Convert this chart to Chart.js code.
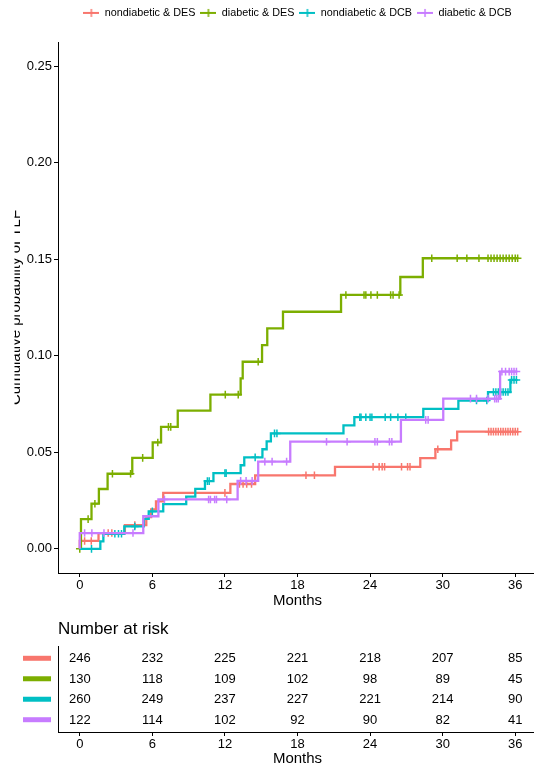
<!DOCTYPE html>
<html>
<head>
<meta charset="utf-8">
<title>Cumulative incidence by diabetes status and device</title>
<script src="https://cdn.jsdelivr.net/npm/chart.js@4.4.1/dist/chart.umd.min.js"></script>
<style>
  html, body { margin: 0; padding: 0; background: #fff; }
  #wrap { position: relative; width: 534px; height: 767px; overflow: hidden; }
  canvas { position: absolute; left: 0; display: block; }
  #curve { top: 0; }
  #risk { top: 612px; }
</style>
</head>
<body>
<div id="wrap">
  <canvas id="curve" width="537" height="612"></canvas>
  <canvas id="risk" width="537" height="155"></canvas>
</div>
<script>
const groups = ["nondiabetic & DES", "diabetic & DES", "nondiabetic & DCB", "diabetic & DCB"];
const colors = ["#F8766D", "#7CAE00", "#00BFC4", "#C77CFF"];

// event times (months) and cumulative probability right after each event
const redEventT = [0, 1.55, 3.73, 5.5, 5.9, 6.3, 6.9, 12.45, 14.5, 21.1, 28.15, 29.4, 30.7, 31.2];
const redEventY = [0.0041, 0.0082, 0.0123, 0.0164, 0.0205, 0.0246, 0.029, 0.0336, 0.0381, 0.0425, 0.047, 0.0516, 0.0562, 0.0607];
const redCensor = [0.4, 0.95, 2.35, 2.65, 4.55, 12.0, 13.2, 13.5, 13.8, 14.2, 18.7, 19.4, 24.25, 24.75, 25.0, 25.2, 26.6, 27.1, 27.3, 29.6, 33.8, 34.0, 34.2, 34.4, 34.6, 34.8, 35.0, 35.2, 35.4, 35.6, 35.8, 36.0, 36.2];

const greenEventT = [0.1, 0.97, 1.58, 2.3, 4.34, 6.03, 6.72, 8.1, 10.8, 13.3, 13.47, 15.07, 15.5, 16.8, 21.6, 26.5, 28.36];
const greenEventY = [0.0154, 0.0234, 0.031, 0.0389, 0.0471, 0.0551, 0.0632, 0.0716, 0.0799, 0.0883, 0.0969, 0.1055, 0.1142, 0.1228, 0.1315, 0.1408, 0.1505];
const greenCensor = [0, 0.69, 1.25, 2.7, 4.2, 5.2, 6.45, 7.33, 7.52, 12.03, 13.1, 14.75, 22.0, 23.5, 23.65, 24.07, 24.6, 25.7, 25.9, 26.4, 29.1, 31.2, 32.0, 33.0, 33.75, 34.0, 34.25, 34.5, 34.75, 35.0, 35.25, 35.5, 35.75, 36.0, 36.2];

const tealEventT = [1.7, 1.95, 3.68, 5.3, 5.7, 6.9, 8.8, 9.55, 10.35, 11.05, 13.3, 13.6, 15.1, 15.45, 15.8, 21.8, 22.7, 28.4, 31.3, 33.75, 35.6];
const tealEventY = [0.0039, 0.0078, 0.0116, 0.0155, 0.0194, 0.0232, 0.0271, 0.0311, 0.0351, 0.0392, 0.0433, 0.0474, 0.0516, 0.0557, 0.0598, 0.064, 0.0682, 0.0725, 0.0768, 0.0812, 0.0875];
const tealCensor = [0.97, 2.9, 3.2, 3.45, 4.55, 6.0, 10.55, 10.7, 12.0, 12.1, 14.5, 16.1, 16.3, 23.15, 23.25, 23.65, 24.0, 24.15, 25.25, 25.7, 26.3, 26.95, 32.8, 33.65, 34.2, 34.4, 34.6, 34.8, 35.0, 35.2, 35.4, 35.7, 35.9, 36.1];

const purpleEventT = [0, 5.25, 6.5, 13.05, 14.75, 17.4, 26.55, 30.05, 34.75];
const purpleEventY = [0.0082, 0.0169, 0.0256, 0.0352, 0.0452, 0.0555, 0.0668, 0.0778, 0.0918];
const purpleCensor = [0.4, 1.0, 2.0, 4.4, 7.0, 10.65, 10.8, 11.15, 11.3, 12.15, 13.3, 13.75, 14.25, 15.3, 15.9, 17.1, 20.4, 22.1, 24.4, 24.6, 25.6, 25.8, 28.6, 28.8, 32.3, 32.8, 33.75, 34.3, 34.45, 34.6, 34.9, 35.2, 35.5, 35.7, 35.9, 36.1];

// number at risk table
const riskTimes = [0, 6, 12, 18, 24, 30, 36];
const riskRed = [246, 232, 225, 221, 218, 207, 85];
const riskGreen = [130, 118, 109, 102, 98, 89, 45];
const riskTeal = [260, 249, 237, 227, 221, 214, 90];
const riskPurple = [122, 114, 102, 92, 90, 82, 41];

const xTicks = [0, 6, 12, 18, 24, 30, 36];
const yTicks = [0, 0.05, 0.10, 0.15, 0.20, 0.25];
const yTitle = "Cumulative probability of TLF";

Chart.defaults.font.family = "'Liberation Sans', Arial, Helvetica, sans-serif";
Chart.defaults.color = "#000";

// step curve points: start, events, censor marks (c = censored)
function buildCurve(evT, evY, cens) {
  const pts = [{ x: 0, y: 0, c: false }];
  evT.forEach((t, i) => pts.push({ x: t, y: evY[i], c: false }));
  cens.forEach(t => {
    let v = 0;
    evT.forEach((et, i) => { if (et <= t) v = evY[i]; });
    if (t === 0 && evT[0] > 0) v = 0;
    pts.push({ x: t, y: v, c: true });
  });
  pts.sort((a, b) => a.x - b.x || (a.c - b.c));
  // plain end point so the layout adds no marker overflow on the right
  const last = pts[pts.length - 1];
  pts.push({ x: last.x, y: last.y, c: false });
  return pts;
}

const curves = [
  buildCurve(redEventT, redEventY, redCensor),
  buildCurve(greenEventT, greenEventY, greenCensor),
  buildCurve(tealEventT, tealEventY, tealCensor),
  buildCurve(purpleEventT, purpleEventY, purpleCensor)
];

function keyImage(color) {
  const c = document.createElement("canvas");
  c.width = 16; c.height = 10;
  const g = c.getContext("2d");
  g.strokeStyle = color;
  g.lineWidth = 2;
  g.beginPath(); g.moveTo(0, 5); g.lineTo(16, 5); g.stroke();
  g.lineWidth = 1.5;
  g.beginPath(); g.moveTo(8, 1); g.lineTo(8, 9); g.stroke();
  return c;
}
const keyImages = colors.map(keyImage);

const xAxis = (height, titleBottom) => ({
  type: "linear",
  min: -1.8,
  max: 37.8,
  afterBuildTicks: s => { s.ticks = xTicks.map(v => ({ value: v })); },
  afterFit: s => { s.height = height; },
  grid: { display: true, drawOnChartArea: false, drawTicks: true, tickLength: 4, color: "#000", tickColor: "#000", tickWidth: 1 },
  border: { display: true, color: "#000", width: 1 },
  ticks: { font: { size: 13 }, color: "#000", padding: 1, maxRotation: 0, autoSkip: false },
  title: { display: true, text: "Months", font: { size: 15 }, color: "#000", padding: { top: 0, bottom: titleBottom } }
});

// extra space under the legend
const legendSpace = {
  id: "legendSpace",
  beforeInit(chart) {
    const fit = chart.legend.fit;
    chart.legend.fit = function () {
      fit.call(this);
      this.height += 13.7;
    };
  }
};

const yTitlePlugin = {
  id: "yTitle",
  afterDraw(chart) {
    const ctx = chart.ctx;
    const mid = (chart.chartArea.top + chart.chartArea.bottom) / 2;
    ctx.save();
    ctx.beginPath();
    ctx.rect(14.5, 0, 40, chart.height);
    ctx.clip();
    ctx.translate(19.5, mid);
    ctx.rotate(-Math.PI / 2);
    ctx.textAlign = "center";
    ctx.textBaseline = "alphabetic";
    ctx.font = "15px 'Liberation Sans', Arial, sans-serif";
    ctx.fillStyle = "#000";
    ctx.fillText(yTitle, 0, 0);
    ctx.restore();
  }
};

new Chart(document.getElementById("curve"), {
  type: "line",
  data: {
    datasets: curves.map((pts, i) => ({
      label: groups[i],
      data: pts,
      borderColor: colors[i],
      backgroundColor: colors[i],
      borderWidth: 2.3,
      stepped: true,
      tension: 0,
      fill: false,
      pointStyle: "cross",
      pointRadius: ctx => (ctx.raw && ctx.raw.c ? 3.8 : 0),
      pointBorderWidth: 1.5,
      pointBorderColor: colors[i],
      order: 4 - i
    }))
  },
  options: {
    responsive: false,
    animation: false,
    events: [],
    layout: { padding: { top: 2.5, left: 0, right: 0, bottom: 0 } },
    plugins: {
      tooltip: { enabled: false },
      legend: {
        position: "top",
        align: "center",
        fullSize: false,
        labels: {
          usePointStyle: true,
          pointStyleWidth: 16,
          padding: 5,
          font: { size: 10.8 },
          color: "#000",
          generateLabels: () => groups.map((name, i) => ({
            text: name,
            pointStyle: keyImages[i],
            fillStyle: colors[i],
            strokeStyle: colors[i],
            lineWidth: 0,
            hidden: false,
            datasetIndex: i,
            fontColor: "#000"
          }))
        }
      }
    },
    scales: {
      x: xAxis(39, 2),
      y: {
        type: "linear",
        min: -0.0125,
        max: 0.2625,
        afterBuildTicks: s => { s.ticks = yTicks.map(v => ({ value: v })); },
        afterFit: s => { s.width = 58; },
        grid: { display: true, drawOnChartArea: false, drawTicks: true, tickLength: 4, color: "#000", tickColor: "#000", tickWidth: 1 },
        border: { display: true, color: "#000", width: 1 },
        ticks: { font: { size: 13 }, color: "#000", padding: 2, callback: v => v.toFixed(2) },
        title: { display: false }
      }
    }
  },
  plugins: [legendSpace, yTitlePlugin]
});

// risk table
const riskRows = [riskRed, riskGreen, riskTeal, riskPurple];

const riskText = {
  id: "riskText",
  afterDatasetsDraw(chart) {
    const ctx = chart.ctx;
    const yScale = chart.scales.y;
    ctx.save();
    ctx.font = "13px 'Liberation Sans', Arial, sans-serif";
    ctx.fillStyle = "#000";
    ctx.textAlign = "center";
    ctx.textBaseline = "middle";
    chart.data.datasets.forEach((ds, i) => {
      const meta = chart.getDatasetMeta(i);
      meta.data.forEach((pt, j) => ctx.fillText(String(ds.data[j].n), pt.x, pt.y + 0.5));
      const y = yScale.getPixelForValue(ds.data[0].y);
      ctx.strokeStyle = colors[i];
      ctx.lineWidth = 5;
      ctx.beginPath();
      ctx.moveTo(23, y);
      ctx.lineTo(51, y);
      ctx.stroke();
    });
    ctx.restore();
  }
};

new Chart(document.getElementById("risk"), {
  type: "scatter",
  data: {
    datasets: riskRows.map((row, i) => ({
      label: groups[i],
      data: row.map((n, j) => ({ x: riskTimes[j], y: 3 - i, n: n })),
      pointRadius: 0,
      borderWidth: 0,
      showLine: false
    }))
  },
  options: {
    responsive: false,
    animation: false,
    events: [],
    layout: { padding: 0 },
    plugins: {
      tooltip: { enabled: false },
      legend: { display: false },
      title: {
        display: true,
        text: "Number at risk",
        align: "start",
        fullSize: false,
        color: "#000",
        font: { size: 17, weight: "normal" },
        padding: { top: 7, bottom: 6.6 }
      }
    },
    scales: {
      x: xAxis(35, -1),
      y: {
        type: "linear",
        min: -0.6,
        max: 3.6,
        afterFit: s => { s.width = 58; },
        grid: { display: false },
        border: { display: true, color: "#000", width: 1 },
        ticks: { display: false }
      }
    }
  },
  plugins: [riskText]
});
</script>
</body>
</html>
